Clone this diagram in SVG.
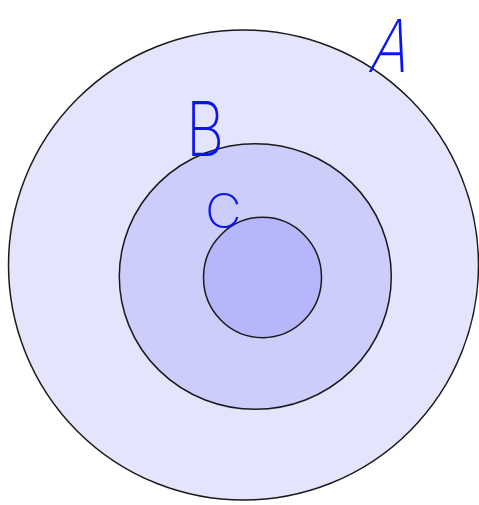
<svg xmlns="http://www.w3.org/2000/svg" width="479" height="505" viewBox="0 0 479 505">
<style>
.ring{stroke:#1a1a1a;stroke-width:1.5}
.lbl{fill:#0a14f0;font-family:Inter,"Liberation Sans",sans-serif;font-weight:200}
</style>
<rect width="479" height="505" fill="#ffffff"/>
<g id="A">
<circle class="ring" cx="243.5" cy="265" r="235" fill="#e4e4fc"/>
<text class="lbl" transform="translate(367,72) skewX(-14) scale(0.8,1)" font-size="73">A</text>
</g>
<g id="B">
<ellipse class="ring" cx="255.3" cy="276.5" rx="136" ry="132.8" fill="#cdcdfb"/>
<text class="lbl" transform="translate(186,156) scale(0.78,1)" font-size="76">B</text>
</g>
<g id="C">
<ellipse class="ring" cx="262.5" cy="277.5" rx="59" ry="60.2" fill="#b6b6fb"/>
<text class="lbl" transform="translate(205,228) scale(1.05,1)" font-size="48">C</text>
</g>
<g id="connectors"/>
</svg>
